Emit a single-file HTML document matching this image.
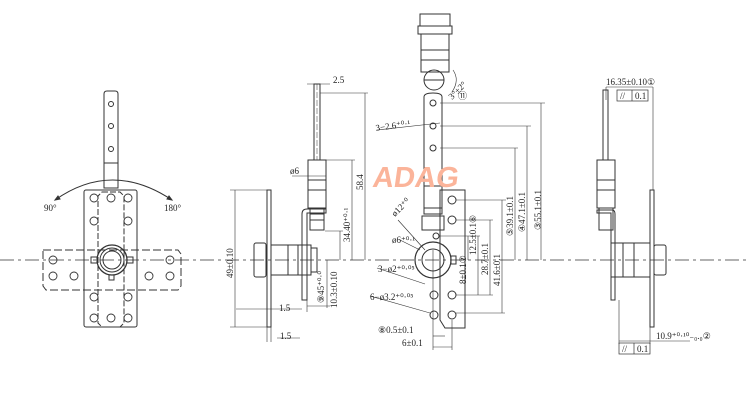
<!DOCTYPE html>
<html><head><meta charset="utf-8"><style>
html,body{margin:0;padding:0;background:#fff;width:750px;height:400px;overflow:hidden}
svg{display:block}
text{font-family:"Liberation Serif",serif;font-size:9px;fill:#222}
</style></head><body>
<svg width="750" height="400" viewBox="0 0 750 400" xmlns="http://www.w3.org/2000/svg">
<g stroke="#333" stroke-width="1" fill="none">
<line x1="0" y1="260" x2="750" y2="260" stroke-dasharray="14,4,3,4" stroke-width="0.8"/>

<!-- LEFT VIEW -->
<path d="M104,94 Q104,91 107,91 L115,91 Q118,91 118,94 L118,188 L104,188 Z"/>
<line x1="104" y1="163" x2="118" y2="163"/>
<circle cx="111" cy="104" r="2.5"/><circle cx="111" cy="126" r="2.5"/><circle cx="111" cy="149" r="2.5"/>
<path d="M55,200 Q112,160 172,200"/>
<path d="M55,200 l5,-1 l-2,-3 z" fill="#333"/><path d="M172,200 l-5,-1 l2,-3 z" fill="#333"/>
<rect x="84" y="190" width="53" height="137" rx="2"/>
<path d="M102,192 L120,192 L124,196 L124,323 L120,327 L102,327 L98,323 L98,196 Z" stroke-dasharray="6,2"/>
<path d="M43,250 L178,250 L181,254 L181,286 L178,290 L46,290 L43,286 Z" stroke-dasharray="8,3"/>
<g stroke-width="0.9">
<circle cx="94" cy="198" r="4"/><circle cx="128" cy="198" r="4"/><circle cx="111" cy="198" r="4"/>
<circle cx="94" cy="221" r="4"/><circle cx="128" cy="221" r="4"/>
<circle cx="53" cy="260" r="4"/><circle cx="53" cy="276" r="4"/><circle cx="74" cy="276" r="4"/>
<circle cx="170" cy="260" r="4"/><circle cx="170" cy="276" r="4"/><circle cx="149" cy="276" r="4"/>
<circle cx="94" cy="297" r="4"/><circle cx="128" cy="297" r="4"/>
<circle cx="94" cy="318" r="4"/><circle cx="128" cy="318" r="4"/><circle cx="111" cy="318" r="4"/>
</g>
<circle cx="112" cy="260" r="15" stroke-width="1.3"/><circle cx="112" cy="260" r="12"/><circle cx="112" cy="260" r="9"/>
<rect x="91" y="257" width="6" height="6"/><rect x="127" y="257" width="6" height="6"/><rect x="109" y="275" width="5" height="5"/>

<!-- MIDDLE VIEW -->
<rect x="314" y="84" width="6" height="76"/>
<line x1="317" y1="84" x2="317" y2="160" stroke-dasharray="6,2" stroke-width="0.5"/>
<rect x="308" y="160" width="18" height="48"/>
<line x1="308" y1="180" x2="326" y2="180"/><line x1="308" y1="190" x2="326" y2="190"/>
<rect x="310" y="208" width="14" height="22"/>
<line x1="310" y1="214" x2="324" y2="214"/><line x1="310" y1="220" x2="324" y2="220"/>
<path d="M302,300 L302,214 Q302,209 307,209 L326,209 L326,213 L307,213 L307,300 Z"/>
<rect x="267" y="190" width="4" height="137"/>
<rect x="254" y="243" width="12" height="34" rx="2"/>
<rect x="271" y="245" width="40" height="30"/>
<line x1="288" y1="245" x2="288" y2="275"/><line x1="298" y1="245" x2="298" y2="275"/>
<rect x="311" y="248" width="6" height="24"/>
<line x1="235" y1="190" x2="235" y2="327" stroke-width="0.6"/>
<line x1="230" y1="190" x2="267" y2="190" stroke-width="0.6"/><line x1="230" y1="327" x2="267" y2="327" stroke-width="0.6"/>
<line x1="365" y1="93" x2="365" y2="260" stroke-width="0.6"/><line x1="320" y1="93" x2="368" y2="93" stroke-width="0.6"/>
<line x1="352" y1="160" x2="352" y2="260" stroke-width="0.6"/><line x1="326" y1="160" x2="355" y2="160" stroke-width="0.6"/>
<line x1="340" y1="231" x2="340" y2="260" stroke-width="0.6"/><line x1="325" y1="231" x2="343" y2="231" stroke-width="0.6"/>
<line x1="327" y1="260" x2="327" y2="308" stroke-width="0.6"/><line x1="307" y1="306" x2="330" y2="306" stroke-width="0.6"/>
<line x1="307" y1="84" x2="330" y2="84" stroke-width="0.6"/>
<line x1="277" y1="338" x2="300" y2="338" stroke-width="0.6"/>
<line x1="236" y1="309" x2="302" y2="309" stroke-width="0.6"/>
<line x1="307" y1="300" x2="307" y2="312" stroke-width="0.6"/>
<line x1="267" y1="327" x2="267" y2="342" stroke-width="0.6"/><line x1="271" y1="327" x2="271" y2="342" stroke-width="0.6"/>
<line x1="292" y1="176" x2="326" y2="176" stroke-width="0.6"/>

<!-- RIGHT-CENTER VIEW -->
<rect x="420" y="14" width="30" height="12"/>
<rect x="418" y="26" width="34" height="8"/>
<rect x="421" y="34" width="28" height="38"/>
<line x1="421" y1="50" x2="449" y2="50"/><line x1="421" y1="60" x2="449" y2="60"/>
<circle cx="434" cy="80" r="10"/><line x1="424" y1="80" x2="444" y2="80"/>
<path d="M424,97 Q424,93 433,93 Q442,93 442,97 L442,186 L424,186 Z"/>
<circle cx="433" cy="103" r="3"/><circle cx="433" cy="126" r="3"/><circle cx="433" cy="148" r="3"/>
<rect x="424" y="186" width="18" height="28"/><line x1="424" y1="208" x2="442" y2="208"/><line x1="424" y1="216" x2="442" y2="216"/>
<rect x="422" y="216" width="22" height="14"/>
<path d="M440,190 L465,190 L465,328 L445,328 L440,320 Z"/>
<circle cx="452" cy="200" r="4"/><circle cx="452" cy="220" r="4"/><circle cx="436" cy="236" r="3"/>
<circle cx="452" cy="295" r="4"/><circle cx="434" cy="295" r="4"/><circle cx="452" cy="315" r="4"/><circle cx="434" cy="315" r="4"/>
<circle cx="433" cy="260" r="18" stroke-width="1.2"/><circle cx="433" cy="260" r="11"/>
<rect x="451" y="256" width="5" height="8"/>
<path d="M453,70 Q460,80 452,92" stroke-width="0.6"/>
<line x1="440" y1="103" x2="545" y2="103" stroke-width="0.6"/><line x1="541" y1="103" x2="541" y2="260" stroke-width="0.6"/>
<line x1="440" y1="126" x2="531" y2="126" stroke-width="0.6"/><line x1="527" y1="126" x2="527" y2="260" stroke-width="0.6"/>
<line x1="440" y1="148" x2="518" y2="148" stroke-width="0.6"/><line x1="515" y1="148" x2="515" y2="260" stroke-width="0.6"/>
<line x1="456" y1="200" x2="506" y2="200" stroke-width="0.6"/><line x1="502" y1="200" x2="502" y2="313" stroke-width="0.6"/>
<line x1="456" y1="220" x2="493" y2="220" stroke-width="0.6"/><line x1="490" y1="220" x2="490" y2="295" stroke-width="0.6"/>
<line x1="440" y1="236" x2="480" y2="236" stroke-width="0.6"/><line x1="478" y1="236" x2="478" y2="295" stroke-width="0.6"/>
<line x1="468" y1="236" x2="468" y2="260" stroke-width="0.6"/>
<line x1="456" y1="295" x2="493" y2="295" stroke-width="0.6"/><line x1="456" y1="313" x2="505" y2="313" stroke-width="0.6"/>
<line x1="433" y1="250" x2="433" y2="350" stroke-width="0.6"/>
<line x1="433" y1="336" x2="445" y2="336" stroke-width="0.6"/><line x1="433" y1="347" x2="452" y2="347" stroke-width="0.6"/>
<line x1="452" y1="320" x2="452" y2="350" stroke-width="0.6"/>
<line x1="377" y1="130" x2="440" y2="123" stroke-width="0.6"/>
<line x1="377" y1="268" x2="425" y2="284" stroke-width="0.6"/>
<line x1="370" y1="296" x2="430" y2="313" stroke-width="0.6"/>
<line x1="400" y1="240" x2="420" y2="250" stroke-width="0.6"/>
<line x1="398" y1="220" x2="425" y2="250" stroke-width="0.6"/>

<!-- RIGHT VIEW -->
<rect x="603" y="90" width="5" height="70"/>
<rect x="597" y="160" width="18" height="48"/>
<line x1="597" y1="180" x2="615" y2="180"/><line x1="597" y1="190" x2="615" y2="190"/>
<rect x="599" y="208" width="14" height="22"/>
<path d="M615,300 L615,214 Q615,210 612,210 L597,210 L597,213 L611,213 L611,300 Z"/>
<rect x="650" y="190" width="4" height="137"/>
<rect x="611" y="243" width="39" height="34"/>
<line x1="623" y1="243" x2="623" y2="277"/><line x1="634" y1="243" x2="634" y2="277"/>
<rect x="654" y="245" width="12" height="30" rx="2"/>
<line x1="606" y1="87" x2="606" y2="100" stroke-width="0.6"/><line x1="653" y1="87" x2="653" y2="190" stroke-width="0.6"/>
<line x1="606" y1="87" x2="653" y2="87" stroke-width="0.6"/>
<rect x="617" y="90" width="31" height="11" stroke-width="0.7"/><line x1="632" y1="90" x2="632" y2="101" stroke-width="0.7"/>
<line x1="619" y1="300" x2="619" y2="344" stroke-width="0.6"/><line x1="650" y1="327" x2="650" y2="344" stroke-width="0.6"/>
<line x1="619" y1="341" x2="690" y2="341" stroke-width="0.6"/>
<rect x="619" y="343" width="31" height="11" stroke-width="0.7"/><line x1="634" y1="343" x2="634" y2="354" stroke-width="0.7"/>
</g>

<text x="44" y="211">90°</text><text x="164" y="211">180°</text>
<text x="333" y="83">2.5</text>
<text x="290" y="174">ø6</text>
<text x="279" y="311">1.5</text><text x="280" y="339">1.5</text>
<text transform="translate(233,278) rotate(-90)">49±0.10</text>
<text transform="translate(363,190) rotate(-90)">58.4</text>
<text transform="translate(350,242) rotate(-90)">34.40⁺⁰·¹</text>
<text transform="translate(337,308) rotate(-90)">10.3±0.10</text>
<text transform="translate(324,303) rotate(-90)">⑨45⁺⁰·⁰</text>
<text x="376" y="131" transform="rotate(-8 376 131)">3−2.6⁺⁰·¹</text>
<text x="452" y="100" transform="rotate(-45 452 100)">3°±2°</text><text x="458" y="99">⑪</text>
<text x="395" y="217" transform="rotate(-45 395 217)">ø12⁺⁰</text>
<text x="392" y="243">ø6⁺⁰·¹</text>
<text x="378" y="272">3−ø2⁺⁰·⁰⁵</text>
<text x="370" y="300">6−ø3.2⁺⁰·⁰⁵</text>
<text x="378" y="333">⑧0.5±0.1</text><text x="402" y="346">6±0.1</text>
<text transform="translate(541,230) rotate(-90)">③55.1±0.1</text>
<text transform="translate(525,232) rotate(-90)">④47.1±0.1</text>
<text transform="translate(513,236) rotate(-90)">⑤39.1±0.1</text>
<text transform="translate(500,286) rotate(-90)">41.6±0.1</text>
<text transform="translate(488,275) rotate(-90)">28.7±0.1</text>
<text transform="translate(476,255) rotate(-90)">12.5±0.1⑥</text>
<text transform="translate(466,284) rotate(-90)">8±0.1⑦</text>
<text x="606" y="85">16.35±0.10①</text>
<text x="620" y="99">//</text><text x="635" y="99">0.1</text>
<text x="656" y="339">10.9⁺⁰·¹⁰₋₀.₀②</text>
<text x="622" y="352">//</text><text x="637" y="352">0.1</text>
<text x="372" y="187" textLength="86" lengthAdjust="spacingAndGlyphs" transform="skewX(-8) translate(26,0)" style="font-family:'Liberation Sans',sans-serif;font-size:29px;font-weight:bold;fill:#fbb49a">ADAG</text>
</svg>
</body></html>
